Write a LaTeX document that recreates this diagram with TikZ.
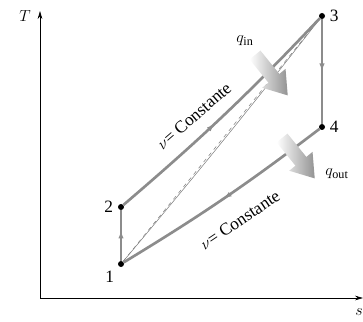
\documentclass[tikz,border=0pt]{standalone}
\usepackage{fontspec}
\setmainfont{Liberation Serif}
\usetikzlibrary{arrows.meta, decorations.markings}

\tikzset{
heatarrow/.pic={
\shade[left color=white, right color=gray!85, draw=none]
(0,-7) -- (30,-7) -- (30,-15) -- (52,0) -- (30,15) -- (30,7) -- (0,7) -- cycle;
}
}

\begin{document}
\begin{tikzpicture}[
x=0.75pt, y=0.75pt,
every node/.style={font=\fontsize{13}{15}\selectfont},
axis/.style={-{Stealth[length=6pt,width=3.5pt]}, line width=0.6pt},
process/.style={draw=gray!90, line width=2pt},
midarrow/.style={postaction={decorate},
  decoration={markings, mark=at position #1 with {\arrow{Latex[length=6pt,width=4pt]}}}},
thinline/.style={draw=gray, line width=0.4pt},
dot/.style={circle, fill=black, inner sep=0pt, minimum size=4.5pt},
ptlabel/.style={label distance=0pt}
]
\useasboundingbox (0,0) rectangle (363,321);

% ------------------------
% Axes
% ------------------------
\coordinate (origin) at (40,23);
\coordinate (tmax) at (40,310);
\coordinate (smax) at (363,23);
\draw[axis] (origin) -- (tmax);
\draw[axis] (origin) -- (smax);
\node (tlab) at (25,305) {$T$};
\node (slab) at (359,9) {$s$};

% ------------------------
% State points
% ------------------------
\node[dot, label={[ptlabel]below left:1}] (p1) at (121,57) {};
\node[dot, label={[ptlabel]left:2}] (p2) at (121,114) {};
\node[dot, label={[ptlabel]right:3}] (p3) at (322,305) {};
\node[dot, label={[ptlabel]right:4}] (p4) at (322,194) {};

% thin lines 1 -> 3
\draw[thinline, dashed] (p1) -- (p3);
\draw[thinline] (p1) to[bend right=1] (p3);

% ------------------------
% Cycle
% ------------------------
\draw[process, midarrow=0.6] (p1) -- (p2);
\draw[process, midarrow=0.45] (p2) to[bend right=3] (p3);
\draw[process, midarrow=0.5] (p3) -- (p4);
\draw[process, midarrow=0.5] (p4) to[bend left=3] (p1);

% ------------------------
% Labels
% ------------------------
\node[rotate=41] (vtop) at (194,205) {$\nu$= Constante};
\node[rotate=34] (vbot) at (240,101) {$\nu$= Constante};

% heat in / out
\pic[rotate=-51] at (255,266) {heatarrow};
\pic[rotate=-51] at (282,183) {heatarrow};
\node (qin) at (245,280) {$q_{\mathrm{in}}$};
\node (qout) at (337,147) {$q_{\mathrm{out}}$};

\end{tikzpicture}
\end{document}
